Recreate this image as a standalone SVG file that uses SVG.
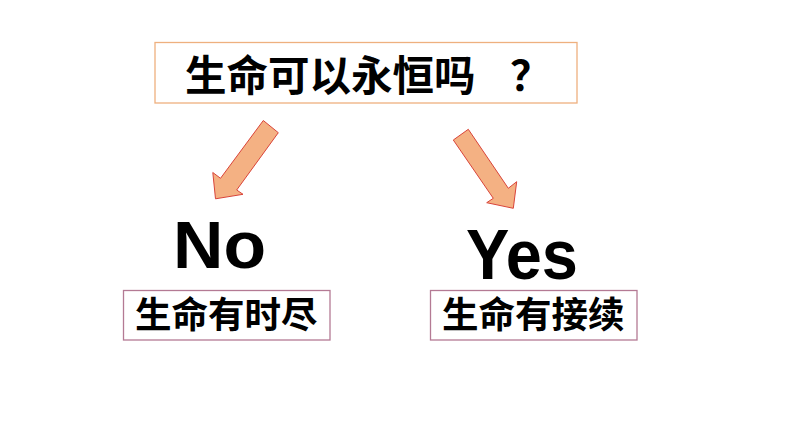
<svg xmlns="http://www.w3.org/2000/svg" width="794" height="447" viewBox="0 0 794 447">
<style>
.box{fill:#ffffff;stroke-width:1.3}
.q{stroke:#eeb07e}
.a{stroke:#b47a94}
.cjk{font-family:"Noto Sans CJK SC","Noto Sans",sans-serif;font-weight:bold;fill:#000000}
.lat{font-family:"Liberation Sans",Arial,sans-serif;font-weight:bold;fill:#000000}
.arrow{fill:#f4b183;stroke:#d9443a;stroke-width:1;stroke-linejoin:miter}
</style>
<rect width="794" height="447" fill="#ffffff"/>
<g id="question">
<rect class="box q" x="155" y="42.5" width="422" height="60.5"/>
<text class="cjk" x="185" y="91" font-size="41.5">生命可以永恒吗<tspan x="510">？</tspan></text>
</g>
<g id="connectors">
<polygon class="arrow" points="263.3,120.5 278.3,132.7 236.7,190 243,194.3 215.5,198.8 212.8,172.5 220.5,178.3"/>
<polygon class="arrow" points="453.3,140 468.3,129.3 508.3,188.3 516.7,181.7 513.3,208.3 486.7,202.7 493.3,198.3"/>
</g>
<g id="no">
<text class="lat" x="173" y="268" font-size="66" textLength="93" lengthAdjust="spacingAndGlyphs">No</text>
</g>
<g id="yes">
<text class="lat" x="466" y="279" font-size="70" textLength="112" lengthAdjust="spacingAndGlyphs">Yes</text>
</g>
<g id="finite">
<rect class="box a" x="123.5" y="290.5" width="206.5" height="49.5"/>
<text class="cjk" x="135" y="328" font-size="36.5">生命有时尽</text>
</g>
<g id="continue">
<rect class="box a" x="430.5" y="290.5" width="206.5" height="49.5"/>
<text class="cjk" x="442" y="328" font-size="36.5">生命有接续</text>
</g>
</svg>
